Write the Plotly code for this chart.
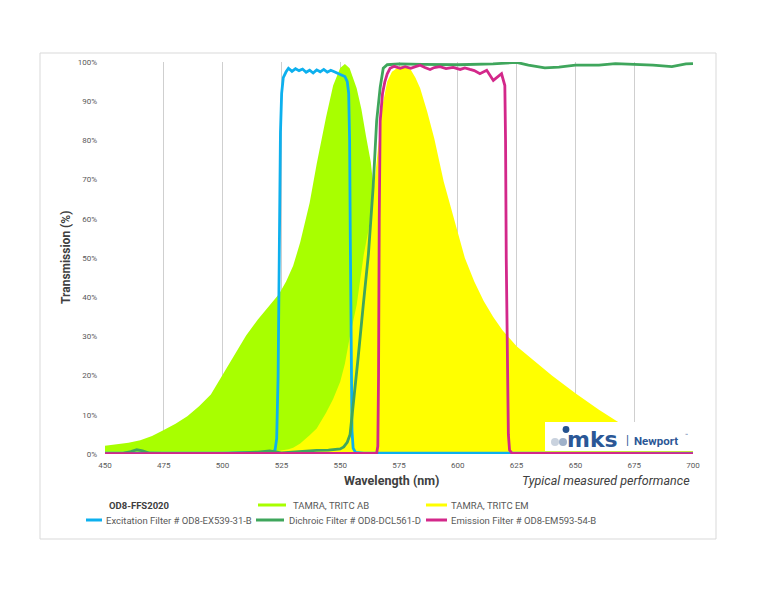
import plotly.graph_objects as go

# ---------------- data ----------------
x_ticks = [450, 475, 500, 525, 550, 575, 600, 625, 650, 675, 700]
y_ticks = [0, 10, 20, 30, 40, 50, 60, 70, 80, 90, 100]
y_tick_text = ["0%", "10%", "20%", "30%", "40%", "50%", "60%", "70%", "80%", "90%", "100%"]

# TAMRA, TRITC absorption (%)
ab_nm = [450, 455, 460, 465, 470, 475, 480, 485, 490, 495, 500, 505, 510, 515, 520, 524,
         527, 530, 533, 537, 540, 544, 547, 550, 552, 554, 557, 559, 561, 563, 564.5, 566,
         568, 570, 575, 580, 590, 600, 650, 700]
ab_val = [2.1, 2.5, 2.9, 3.5, 4.6, 6.1, 7.7, 9.6, 12.2, 15.2, 20.2, 25.2, 30.2, 34.3, 38.0, 40.8,
          44, 48, 54, 64, 74, 86, 94, 98.5, 99.5, 98.4, 93.3, 88, 81, 74.5, 66, 55,
          38, 24, 8, 3, 1, 0.5, 0.2, 0.1]

# TAMRA, TRITC emission (%)
em_nm = [450, 500, 515, 520, 525, 528, 530, 533, 537, 540, 544, 547, 550, 552, 554, 557, 560,
         562, 564, 566, 568, 570, 572, 575, 577, 580, 582, 584, 587, 590, 594, 597, 600, 603,
         607, 611, 615, 619, 625, 632, 640, 650, 660, 668, 675, 685, 700]
em_val = [0, 0.1, 0.2, 0.4, 0.8, 1.2, 1.6, 2.7, 4.8, 6.5, 10.5, 14, 18.4, 23, 29.6, 38, 50.8,
          57, 66, 78, 89, 95, 97.5, 98.8, 99, 98, 96, 93.3, 87.3, 80.5, 69.5, 63, 56.5, 50,
          44, 39, 35, 31.6, 27.5, 24, 20, 15.5, 11.3, 8.2, 6.3, 4.5, 3]

# Excitation filter OD8-EX539-31-B (%)
ex_nm = [450, 462, 466, 500, 515, 521, 522.3, 523, 523.6, 524.1, 524.6, 525.1, 525.8, 527, 528,
         529.5, 531, 532.5, 534, 535.5, 537, 538.5, 540, 541.5, 543, 544.5, 546, 547.5, 549,
         550.5, 552, 553, 553.6, 554, 554.3, 554.6, 555, 555.5, 556.5, 560, 600, 700]
ex_val = [0.2, 0.3, 0.2, 0.2, 0.3, 0.4, 1, 4, 20, 55, 82, 92, 96, 97.5, 98.4,
          97.6, 98.3, 97.8, 98.2, 97.4, 97.9, 97.2, 98, 97.5, 98.1, 97.4, 97.9, 97.5, 97.0,
          96.7, 96.3, 95.0, 92, 80, 55, 25, 6, 1.5, 0.4, 0.2, 0.2, 0.2]

# Dichroic filter OD8-DCL561-D (%)
di_nm = [450, 458, 461, 463.5, 466, 469, 480, 500, 515, 520, 525, 530, 535, 540, 545, 548, 550,
         551.5, 553, 554.2, 555.6, 557.7, 559.8, 562, 564, 565.5, 567, 568.3, 570, 575, 585,
         600, 615, 625, 630, 637, 643, 650, 660, 667, 675, 683, 691, 697, 700]
di_val = [0.1, 0.2, 0.6, 1.1, 0.8, 0.2, 0.1, 0.1, 0.5, 0.8, 0.3, 0.5, 0.8, 0.9, 1.0, 1.1, 1.3,
          1.8, 3, 5, 12.5, 25, 38, 51, 68, 85, 93.5, 98.4, 99.3, 99.5, 99.4,
          99.3, 99.5, 99.9, 99.2, 98.5, 98.7, 99.2, 99.2, 99.6, 99.4, 99.2, 98.8, 99.5, 99.6]

# Emission filter OD8-EM593-54-B (%)
ef_nm = [450, 565.5, 566, 566.3, 566.6, 567, 568, 569, 570, 571.2, 573, 575.5, 577.6, 580, 582,
         584, 586, 588.2, 590, 592.4, 595, 598, 601, 603, 605.2, 607, 609.4, 612.3, 615.1,
         618.6, 620, 620.3, 620.6, 621, 621.5, 622, 623, 700]
ef_val = [0.1, 0.2, 2, 20, 60, 85, 92, 95, 97, 98.4, 98.9, 98.4, 98.8, 98.4, 98.8,
          99.2, 98.6, 98.1, 98.6, 98.8, 98.3, 98.6, 98.1, 98.5, 98.1, 97.8, 97.0, 97.9, 95.3,
          97.0, 94, 80, 50, 20, 5, 1, 0.2, 0.1]

# ---------------- styling ----------------
C_AB = "#A8FF00"
C_EM = "#FFFF00"
C_EX = "#0DB0EE"
C_DI = "#3FA65C"
C_EF = "#D3288A"
TXT = "#595959"
DARK = "#404040"
FONT = "Roboto"

W, H = 776, 600
L, R, T, B = 105, 693, 62, 454


def px(x):
    return (x - L) / (R - L)


def py(y):
    return (B - y) / (B - T)


fig = go.Figure()
fig.add_trace(go.Scatter(x=ab_nm, y=ab_val, mode="lines", fill="tozeroy",
                         line=dict(width=0, color=C_AB), fillcolor=C_AB,
                         name="TAMRA, TRITC AB", hoverinfo="skip"))
fig.add_trace(go.Scatter(x=em_nm, y=em_val, mode="lines", fill="tozeroy",
                         line=dict(width=0, color=C_EM), fillcolor=C_EM,
                         name="TAMRA, TRITC EM", hoverinfo="skip"))
fig.add_trace(go.Scatter(x=ex_nm, y=ex_val, mode="lines",
                         line=dict(width=2.8, color=C_EX),
                         name="Excitation Filter # OD8-EX539-31-B"))
fig.add_trace(go.Scatter(x=di_nm, y=di_val, mode="lines",
                         line=dict(width=2.8, color=C_DI),
                         name="Dichroic Filter # OD8-DCL561-D"))
fig.add_trace(go.Scatter(x=ef_nm, y=ef_val, mode="lines",
                         line=dict(width=2.8, color=C_EF),
                         name="Emission Filter # OD8-EM593-54-B"))

fig.update_layout(
    width=W, height=H, autosize=False,
    margin=dict(l=L, r=W - R, t=T, b=H - B, pad=0),
    paper_bgcolor="white", plot_bgcolor="white",
    showlegend=False,
    font=dict(family=FONT, color=TXT),
    xaxis=dict(range=[450, 700], tickmode="array", tickvals=x_ticks,
               ticktext=[str(v) for v in x_ticks], showgrid=True, gridcolor="#CFCFCF",
               gridwidth=1.3, zeroline=False, showline=False, ticks="",
               tickfont=dict(size=8, color=TXT, family=FONT), ticklabelstandoff=5),
    yaxis=dict(range=[0, 100], tickmode="array", tickvals=y_ticks, ticktext=y_tick_text,
               showgrid=False, zeroline=False, showline=False, ticks="",
               tickfont=dict(size=8, color=TXT, family=FONT), ticklabelstandoff=7),
)

shapes = []
annos = []

# chart-area border
shapes.append(dict(type="rect", xref="paper", yref="paper",
                   x0=px(40), x1=px(716), y0=py(539), y1=py(53),
                   line=dict(color="#D9D9D9", width=1), fillcolor="rgba(0,0,0,0)",
                   layer="below"))

# axis titles
annos.append(dict(text="<b>Transmission (%)</b>", xref="paper", yref="paper",
                  x=px(66), y=0.5, textangle=-90, showarrow=False,
                  xanchor="center", yanchor="middle",
                  font=dict(size=12, color=DARK, family=FONT)))
annos.append(dict(text="<b>Wavelength (nm)</b>", xref="paper", yref="paper",
                  x=px(391), y=py(481), showarrow=False, xanchor="center", yanchor="middle",
                  font=dict(size=12.5, color=DARK, family=FONT)))
annos.append(dict(text="<i>Typical measured performance</i>", xref="paper", yref="paper",
                  x=px(692), y=py(481), showarrow=False, xanchor="right", yanchor="middle",
                  font=dict(size=12.5, color=DARK, family=FONT)))

# legend (manual grid)
annos.append(dict(text="<b>OD8-FFS2020</b>", xref="paper", yref="paper",
                  x=px(107), y=py(505), showarrow=False, xanchor="left", yanchor="middle",
                  font=dict(size=9.5, color=DARK, family=FONT)))
legend_items = [
    ("TAMRA, TRITC AB", C_AB, 258, 286, 291, 505),
    ("TAMRA, TRITC EM", C_EM, 426, 447, 449, 505),
    ("Excitation Filter # OD8-EX539-31-B", C_EX, 86, 102, 104, 520),
    ("Dichroic Filter # OD8-DCL561-D", C_DI, 256, 284, 287, 520),
    ("Emission Filter # OD8-EM593-54-B", C_EF, 426, 447, 449, 520),
]
for label, col, s0, s1, tx, yy in legend_items:
    shapes.append(dict(type="line", xref="paper", yref="paper",
                       x0=px(s0), x1=px(s1), y0=py(yy), y1=py(yy),
                       line=dict(color=col, width=3)))
    annos.append(dict(text=label, xref="paper", yref="paper", x=px(tx), y=py(yy),
                      showarrow=False, xanchor="left", yanchor="middle",
                      font=dict(size=9.5, color=TXT, family=FONT)))

# logo box (mks | Newport)
shapes.append(dict(type="rect", xref="paper", yref="paper",
                   x0=px(545), x1=px(694), y0=py(451), y1=py(422),
                   line=dict(width=0), fillcolor="white", layer="above"))


def circle(cx, cy, r, col):
    return dict(type="circle", xref="paper", yref="paper",
                x0=px(cx - r), x1=px(cx + r), y0=py(cy + r), y1=py(cy - r),
                line=dict(width=0), fillcolor=col, layer="above")


shapes.append(circle(555, 442, 4, "#C9D2DE"))
shapes.append(circle(563, 442, 4, "#9FB1CA"))
shapes.append(circle(566, 429.5, 3.4, "#25528F"))
annos.append(dict(text="<b>mks</b>", xref="paper", yref="paper", x=px(565), y=py(439),
                  showarrow=False, xanchor="left", yanchor="middle",
                  font=dict(size=22, color="#2B5796", family="DejaVu Sans")))
annos.append(dict(text="|", xref="paper", yref="paper", x=px(627), y=py(440),
                  showarrow=False, xanchor="center", yanchor="middle",
                  font=dict(size=12, color="#2B5796", family=FONT)))
annos.append(dict(text="<b>Newport</b>", xref="paper", yref="paper", x=px(632), y=py(440.5),
                  showarrow=False, xanchor="left", yanchor="middle",
                  font=dict(size=11.5, color="#2B5796", family=FONT)))
annos.append(dict(text="™", xref="paper", yref="paper", x=px(683), y=py(435),
                  showarrow=False, xanchor="left", yanchor="middle",
                  font=dict(size=5, color="#2B5796", family=FONT)))

fig.update_layout(shapes=shapes, annotations=annos)
fig.write_html("out.html")
